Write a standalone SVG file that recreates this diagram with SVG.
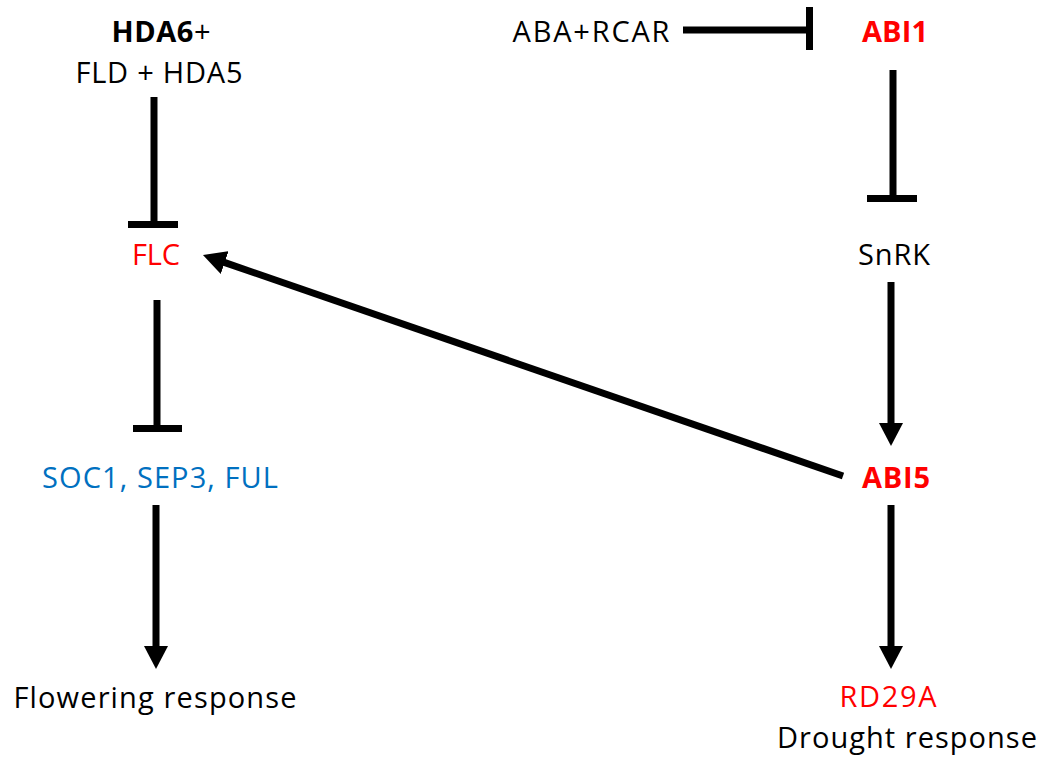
<svg xmlns="http://www.w3.org/2000/svg" width="1044" height="757" viewBox="0 0 1044 757">
<style>
text{font-family:"Open Sans","Noto Sans","Liberation Sans",sans-serif;font-size:29px;text-anchor:middle}
.k{fill:#000}
.r{fill:#ff0000}
.b{fill:#0070c0}
.bold{font-weight:bold}
.ln{stroke:#000;stroke-width:7;fill:none}
</style>
<defs>
<marker id="arr" viewBox="0 0 23 24" refX="2" refY="12" markerWidth="23" markerHeight="24" markerUnits="userSpaceOnUse" orient="auto">
<path d="M0,0 L23,12 L0,24 z" fill="#000"/>
</marker>
</defs>
<rect width="1044" height="757" fill="#fff"/>
<g id="connectors">
<path class="ln" d="M154,97 V224"/>
<path class="ln" d="M128,224.5 H178"/>
<path class="ln" d="M157,300 V428"/>
<path class="ln" d="M133,428.5 H182"/>
<path class="ln" d="M156,505 V648" marker-end="url(#arr)"/>
<path class="ln" d="M683,30 H810"/>
<path class="ln" d="M809.5,7 V50"/>
<path class="ln" d="M893,70 V198"/>
<path class="ln" d="M867,198.5 H917"/>
<path class="ln" d="M891,282 V425" marker-end="url(#arr)"/>
<path class="ln" d="M891,505 V648" marker-end="url(#arr)"/>
<path class="ln" d="M843,476 L222.8,261.9" marker-end="url(#arr)"/>
</g>
<g id="node-hda6"><text x="161" y="42" class="k" textLength="99" lengthAdjust="spacing"><tspan class="bold">HDA6</tspan>+</text><text x="159" y="83" class="k" textLength="167" lengthAdjust="spacing">FLD + HDA5</text></g>
<g id="node-flc"><text x="156" y="265" class="r" textLength="48" lengthAdjust="spacing">FLC</text></g>
<g id="node-soc1"><text x="160" y="488" class="b" textLength="236" lengthAdjust="spacing">SOC1, SEP3, FUL</text></g>
<g id="node-flowering"><text x="155" y="708" class="k" textLength="283" lengthAdjust="spacing">Flowering response</text></g>
<g id="node-aba"><text x="591" y="42" class="k" textLength="157" lengthAdjust="spacing">ABA+RCAR</text></g>
<g id="node-abi1"><text x="895" y="42" class="r bold" textLength="66" lengthAdjust="spacing">ABI1</text></g>
<g id="node-snrk"><text x="894" y="265" class="k" textLength="72" lengthAdjust="spacing">SnRK</text></g>
<g id="node-abi5"><text x="896" y="488" class="r bold" textLength="68" lengthAdjust="spacing">ABI5</text></g>
<g id="node-rd29a"><text x="888" y="707" class="r" textLength="97" lengthAdjust="spacing">RD29A</text><text x="907" y="748" class="k" textLength="260" lengthAdjust="spacing">Drought response</text></g>
</svg>
